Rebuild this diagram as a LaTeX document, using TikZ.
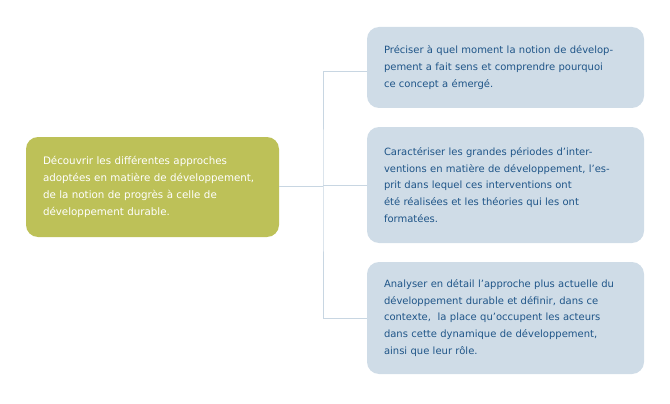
\documentclass[tikz,border=0pt]{standalone}
\usepackage{fontspec}
\setmainfont{DejaVu Sans}
\usepackage{xcolor}
\usepackage{tikz}
\usetikzlibrary{positioning,calc}

\definecolor{olive}{HTML}{BDC158}
\definecolor{paleblue}{HTML}{CFDCE7}
\definecolor{inkblue}{HTML}{1F5588}
\definecolor{linkgray}{HTML}{C8D6E2}

\tikzset{
    goalbox/.style={fill=olive, text=white, rounded corners=12pt, inner xsep=17pt,
        outer sep=0pt, align=left, font=\fontsize{10.3}{16.7}\selectfont},
    aimbox/.style={fill=paleblue, text=inkblue, rounded corners=12pt, inner xsep=17pt,
        outer sep=0pt, minimum width=277pt, text width=243pt, align=left,
        font=\fontsize{10}{16.7}\selectfont},
    link/.style={draw=linkgray, line width=1pt}
}

\begin{document}
\begin{tikzpicture}[x=1pt, y=-1pt]
    \useasboundingbox (0,0) rectangle (670,404);

    % General goal
    \node[goalbox, minimum width=253pt, text width=219pt, minimum height=100pt] (goal) at (152.5,187)
        {Découvrir les différentes approches\\
         adoptées en matière de développement,\\
         de la notion de progrès à celle de\\
         développement durable.};

    % Specific aims
    \node[aimbox, minimum height=81pt] (aim1) at (505.5,67.5)
        {Préciser à quel moment la notion de dévelop-\\
         pement a fait sens et comprendre pourquoi\\
         ce concept a émergé.};
    \node[aimbox, minimum height=116pt] (aim2) at (505.5,185)
        {Caractériser les grandes périodes d'inter-\\
         ventions en matière de développement, l'es-\\
         prit dans lequel ces interventions ont\\
         été réalisées et les théories qui les ont\\
         formatées.};
    \node[aimbox, minimum height=112pt] (aim3) at (505.5,318)
        {Analyser en détail l'approche plus actuelle du\\
         développement durable et définir, dans ce\\
         contexte,\ \ la place qu'occupent les acteurs\\
         dans cette dynamique de développement,\\
         ainsi que leur rôle.};

    % Connectors
    \coordinate (spine) at (323,186);
    \draw[link] (spine -| goal.east) -- (spine);
    \draw[link] ([yshift=-4.5pt]aim1.west) -| (spine) |- (aim3.west);
    \draw[link] (aim2.west) -- (aim2.west -| spine);
\end{tikzpicture}
\end{document}
